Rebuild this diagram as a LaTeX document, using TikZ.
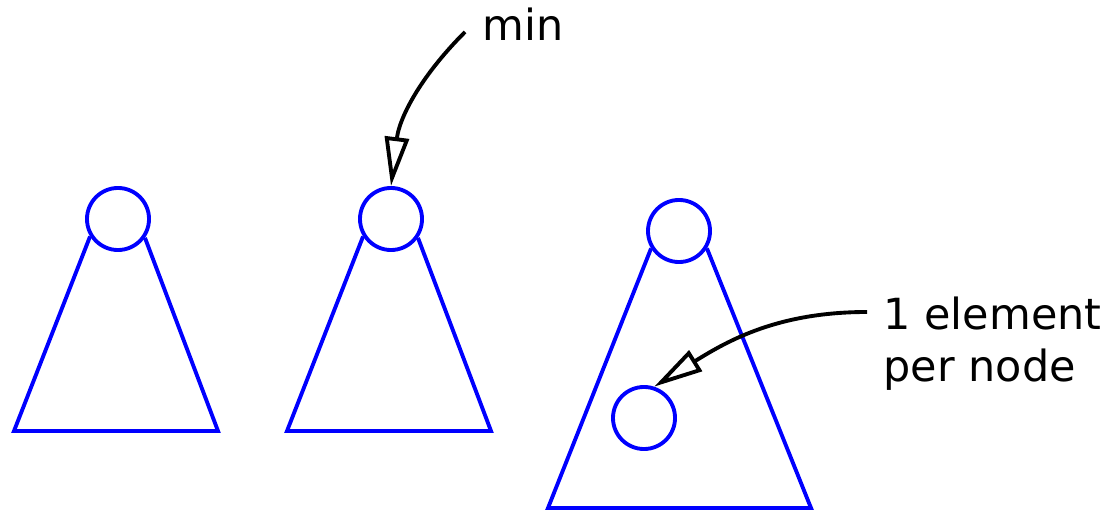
\documentclass[tikz,border=0pt]{standalone}
\usepackage{fontspec}
\setmainfont{DejaVu Sans}
\usetikzlibrary{arrows.meta}
\begin{document}
\begin{tikzpicture}[x=0.01cm, y=-0.01cm,
  hp/.style={circle, draw=blue, line width=1.1pt, minimum size=0.62cm, inner sep=0pt},
  side/.style={draw=blue, line width=1.1pt},
  ptr/.style={line width=1.1pt, -{Triangle[open, length=0.49cm, width=0.24cm]}},
  lbl/.style={font=\fontsize{12.2}{14.8}\selectfont, inner sep=0pt}]
\useasboundingbox (0,0) rectangle (1110,510);
% roots and the inner element
\node[hp] (r1) at (118,219) {};
\node[hp] (r2) at (391,219) {};
\node[hp] (r3) at (679,231) {};
\node[hp] (leaf) at (644,418) {};
% bottom corners
\coordinate (a1) at (14,431);
\coordinate (b1) at (218,431);
\coordinate (a2) at (287,431);
\coordinate (b2) at (491,431);
\coordinate (a3) at (548,508);
\coordinate (b3) at (811,508);
\draw[side] (r1.212) -- (a1) -- (b1) -- (r1.325);
\draw[side] (r2.212) -- (a2) -- (b2) -- (r2.325);
\draw[side] (r3.212) -- (a3) -- (b3) -- (r3.328);
% labels
\node[lbl, anchor=base west] (min) at (482,41) {min};
\node[lbl, anchor=base west, align=left] (elem) at (883,382) {1 element\\per node};
\coordinate (from1) at (465,32);
\coordinate (from2) at (867,312);
\draw[ptr] (from1) to[out=225,in=83] (r2.north);
\draw[ptr] (from2) to[out=180,in=32] (leaf.72);
\end{tikzpicture}
\end{document}
